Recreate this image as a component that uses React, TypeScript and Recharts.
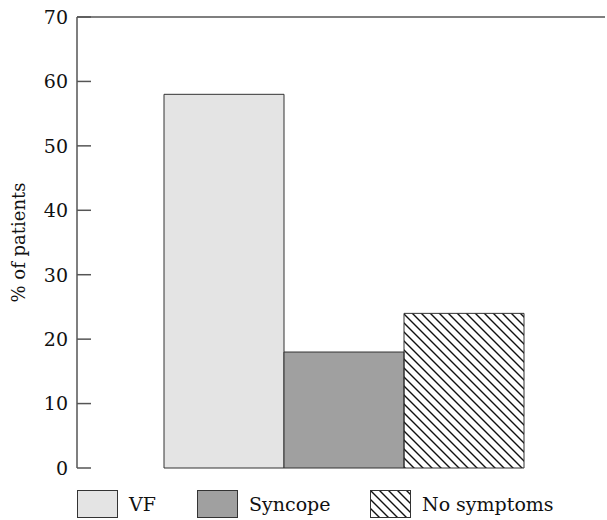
import React from "react";
import { BarChart, Bar, XAxis, YAxis, ReferenceLine } from "recharts";

const categories = ["VF", "Syncope", "No symptoms"];
const values = [58, 18, 24];
const yTicks = [0, 10, 20, 30, 40, 50, 60, 70];

const fills = ["#e4e4e4", "#a0a0a0", "url(#hatch)"];

const row: Record<string, number | string> = { group: "" };
categories.forEach((c, i) => {
  row[c] = values[i];
});
const data = [row];

const FONT = "'DejaVu Serif', serif";

const InwardTick = (props: any) => {
  const { x, y, payload } = props;
  return (
    <g>
      <line x1={x} y1={y} x2={x + 14} y2={y} stroke="#555" strokeWidth={1.5} />
      <text
        x={x - 9}
        y={y}
        dy="0.36em"
        textAnchor="end"
        fontFamily={FONT}
        fontSize={19}
        fill="#111"
      >
        {payload.value}
      </text>
    </g>
  );
};

const legendX = [77, 197, 370];

function HatchBox() {
  return (
    <svg width={41} height={28} style={{ display: "block" }}>
      <defs>
        <pattern id="hatchLegend" patternUnits="userSpaceOnUse" width={9} height={9}>
          <path d="M0,0 L9,9 M-2,7 L2,11 M7,-2 L11,2" stroke="#111" strokeWidth={1.4} />
        </pattern>
      </defs>
      <rect x={0.5} y={0.5} width={40} height={27} fill="url(#hatchLegend)" stroke="#333" />
    </svg>
  );
}

export default function App() {
  return (
    <div style={{ position: "absolute", left: 0, top: 0, width: 607, height: 520, background: "#fff" }}>
      <BarChart
        width={607}
        height={520}
        data={data}
        margin={{ top: 17, right: 2, bottom: 52, left: 0 }}
        barGap={0}
      >
        <defs>
          <pattern id="hatch" patternUnits="userSpaceOnUse" width={9} height={9}>
            <path d="M0,0 L9,9 M-2,7 L2,11 M7,-2 L11,2" stroke="#111" strokeWidth={1.4} />
          </pattern>
        </defs>
        <XAxis
          dataKey="group"
          tick={false}
          tickLine={false}
          height={0}
          padding={{ left: 5, right: 0 }}
          axisLine={{ stroke: "#555", strokeWidth: 1.5 }}
        />
        <YAxis
          domain={[0, 70]}
          ticks={yTicks}
          width={77}
          tickLine={false}
          tickMargin={0}
          tickSize={0}
          axisLine={{ stroke: "#555", strokeWidth: 1.5 }}
          tick={<InwardTick />}
          label={{
            content: (p: any) => {
              const vb = p.viewBox || { y: 17, height: 451 };
              const cy = vb.y + vb.height / 2;
              return (
                <text
                  x={25}
                  y={cy}
                  transform={`rotate(-90, 25, ${cy})`}
                  textAnchor="middle"
                  fontFamily={FONT}
                  fontSize={18}
                  fill="#111"
                >
                  % of patients
                </text>
              );
            },
          }}
        />
        <ReferenceLine y={70} stroke="#555" strokeWidth={1.5} ifOverflow="extendDomain" />
        {categories.map((c, i) => (
          <Bar
            key={c}
            dataKey={c}
            barSize={120}
            fill={fills[i]}
            stroke="#333"
            strokeWidth={1}
            isAnimationActive={false}
          />
        ))}
      </BarChart>
      {categories.map((c, i) => (
        <div
          key={c}
          style={{
            position: "absolute",
            left: legendX[i],
            top: 490,
            height: 28,
            display: "flex",
            alignItems: "center",
            fontFamily: FONT,
            fontSize: 19,
            color: "#111",
          }}
        >
          {i === 2 ? (
            <HatchBox />
          ) : (
            <div
              style={{
                width: 39,
                height: 26,
                background: fills[i],
                border: "1px solid #333",
              }}
            />
          )}
          <span style={{ marginLeft: 11 }}>{c}</span>
        </div>
      ))}
    </div>
  );
}
